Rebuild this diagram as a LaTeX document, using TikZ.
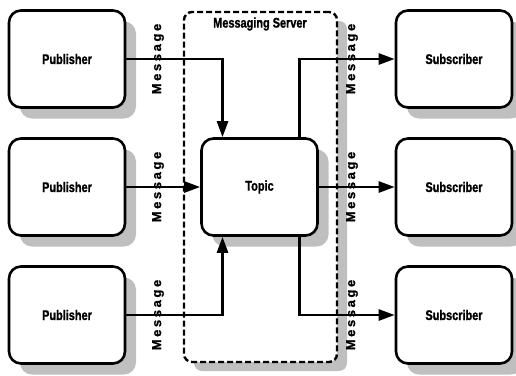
\documentclass[tikz,border=0pt]{standalone}
\usepackage{fontspec}
\newfontfamily\boxfont{Liberation Sans}[FakeStretch=0.78, FakeBold=1.2]
\newfontfamily\msgfont{Liberation Sans}[LetterSpace=20, FakeBold=1]
\usetikzlibrary{arrows.meta,shadows}

\tikzset{
    box/.style = {draw, line width=2.6pt, rounded corners=12pt, fill=white,
        minimum width=116pt, minimum height=97pt,
        font=\boxfont\bfseries\fontsize{14}{14}\selectfont,
        drop shadow={shadow xshift=11pt, shadow yshift=-11pt, fill=black!25, opacity=1}},
    server/.style = {draw, line width=2.4pt, dash pattern=on 6pt off 3pt,
        rounded corners=8pt, fill=white, minimum width=153pt, minimum height=350pt,
        drop shadow={shadow xshift=10pt, shadow yshift=-9pt, fill=black!25, opacity=1}},
    msg/.style = {rotate=90, inner sep=0pt,
        font=\msgfont\bfseries\fontsize{13}{13}\selectfont},
    link/.style = {line width=2.6pt, -{Triangle[length=16pt,width=11pt]}}
}

\begin{document}
\begin{tikzpicture}[x=1pt, y=-1pt]
    \useasboundingbox (0,0) rectangle (516,375);

    % Messaging server frame
    \node[server] (srv) at (260.5,187) {};
    \node[font=\boxfont\bfseries\fontsize{14}{14}\selectfont] (srvlabel) at (260,24) {Messaging Server};

    % Publishers, topic and subscribers
    \node[box] (pub1) at (67,59) {Publisher};
    \node[box] (pub2) at (67,187) {Publisher};
    \node[box] (pub3) at (67,315) {Publisher};
    \node[box] (topic) at (259.5,187) {Topic};
    \node[box] (sub1) at (454,59) {Subscriber};
    \node[box] (sub2) at (454,187) {Subscriber};
    \node[box] (sub3) at (454,315) {Subscriber};

    % Messages into the topic
    \draw[link] (pub1.east) -| ([xshift=-37pt]topic.north);
    \draw[link] (pub2.east) -- (topic.west);
    \draw[link] (pub3.east) -| ([xshift=-37pt]topic.south);

    % Messages out of the topic
    \draw[link] ([xshift=40pt]topic.north) |- (sub1.west);
    \draw[link] (topic.east) -- (sub2.west);
    \draw[link] ([xshift=40pt]topic.south) |- (sub3.west);

    % Message labels
    \node[msg] (msgl1) at (158,59) {Message};
    \node[msg] (msgl2) at (158,187) {Message};
    \node[msg] (msgl3) at (158,315) {Message};
    \node[msg] (msgr1) at (352,59) {Message};
    \node[msg] (msgr2) at (352,187) {Message};
    \node[msg] (msgr3) at (352,315) {Message};
\end{tikzpicture}
\end{document}
